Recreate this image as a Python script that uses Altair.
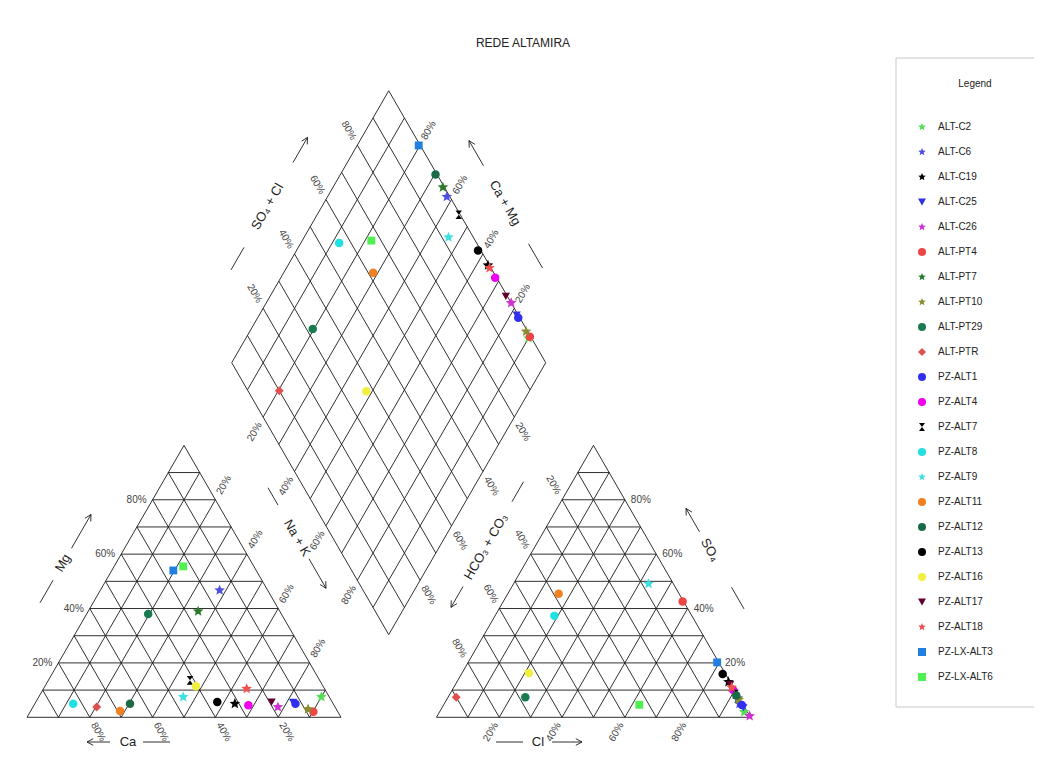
import math
import altair as alt
import pandas as pd

# ---------------- data (percent of meq) ----------------
series = ["ALT-C2", "ALT-C6", "ALT-C19", "ALT-C25", "ALT-C26", "ALT-PT4", "ALT-PT7",
          "ALT-PT10", "ALT-PT29", "ALT-PTR", "PZ-ALT1", "PZ-ALT4", "PZ-ALT7", "PZ-ALT8",
          "PZ-ALT9", "PZ-ALT11", "PZ-ALT12", "PZ-ALT13", "PZ-ALT16", "PZ-ALT17",
          "PZ-ALT18", "PZ-LX-ALT3", "PZ-LX-ALT6"]
markers = ["star", "star", "star", "triangle-down", "star", "circle", "star",
           "star", "circle", "diamond", "circle", "circle", "hourglass", "circle",
           "star", "circle", "circle", "circle", "circle", "triangle-down",
           "star", "square", "square"]
colors = ["#55dd55", "#5050e0", "#000000", "#3030e0", "#d030d0", "#ee4444", "#2a7a2a",
          "#8c8c30", "#1a7a50", "#e05050", "#3030ee", "#ee00ee", "#000000", "#20e0e0",
          "#40e0e0", "#f08020", "#1a6a48", "#000000", "#f0f040", "#600030",
          "#f05050", "#2080e0", "#50f050"]
mg_pct = [7.5, 46.7, 5.0, 5.5, 3.8, 2.0, 39.0, 3.0, 38.0, 3.8, 5.0, 4.4, 13.6, 5.0,
          7.5, 2.3, 5.0, 5.6, 11.4, 5.6, 10.5, 54.0, 55.5]
nak_pct = [90.0, 38.0, 63.7, 82.0, 78.0, 90.2, 35.0, 88.0, 19.6, 20.3, 83.0, 68.3, 45.1, 12.2,
           46.0, 28.5, 30.3, 57.8, 48.1, 75.1, 64.7, 19.6, 22.0]
so4_pct = [2.0, 5.0, 13.0, 3.5, 0.5, 42.6, 7.0, 6.5, 7.4, 7.4, 4.5, 10.0, 8.5, 37.3,
           49.1, 45.4, 8.0, 15.9, 16.3, 12.0, 11.0, 20.2, 4.6]
cl_pct = [97.0, 94.0, 86.5, 96.0, 99.5, 57.1, 92.5, 93.0, 24.6, 2.6, 95.0, 89.5, 91.0, 18.9,
          43.0, 16.2, 91.5, 83.2, 21.3, 87.5, 88.5, 79.3, 62.3]
tick_values = [20, 40, 60, 80]
title_text = "REDE ALTAMIRA"
legend_title = "Legend"

FONT = "Liberation Sans"

# ---------------- geometry ----------------
S3 = math.sqrt(3) / 2
GAP = 0.304
BX, BY = 1 + GAP / 2, GAP * S3
U = 314.0                 # pixels per unit side
OX, OY = 27.0, 717.3      # page position of the left triangle's Ca corner
W, H = 1026, 757
xdom = [(8 - OX) / U, (8 + W - OX) / U]
ydom = [(OY - (8 + H)) / U, (OY - 8) / U]


def cation_xy(mg, nak):
    return nak + mg / 2, mg * S3


def anion_xy(so4, cl):
    return 1 + GAP + cl + so4 / 2, so4 * S3


def diamond_xy(b, c):
    return BX + 0.5 * (b - c), BY + S3 * (b + c)


def page(px, py):
    return (px - OX) / U, (OY - py) / U


def shift(p, sx, sy):
    return p[0] + sx / U, p[1] - sy / U


# ---------------- line segments ----------------
segs = []


def add_seg(p, q):
    segs.append(dict(x=p[0], y=p[1], x2=q[0], y2=q[1]))


for i in range(10):
    f = i / 10
    add_seg(cation_xy(f, 0), cation_xy(f, 1 - f))
    add_seg(cation_xy(0, 1 - f), cation_xy(1 - f, 0))
    add_seg(cation_xy(0, f), cation_xy(1 - f, f))
    add_seg(anion_xy(f, 0), anion_xy(f, 1 - f))
    add_seg(anion_xy(0, f), anion_xy(1 - f, f))
    add_seg(anion_xy(0, 1 - f), anion_xy(1 - f, 0))
for i in range(11):
    f = i / 10
    add_seg(diamond_xy(0, f), diamond_xy(1, f))
    add_seg(diamond_xy(f, 0), diamond_xy(f, 1))

# ---------------- tick labels ----------------
ticks_c, ticks_l, ticks_r = [], [], []
D = 17
for v in tick_values:
    f = v / 100
    lab = f"{v}%"

    def rot(p, ux, uy, ang):
        q = shift(p, D * ux, D * uy)
        ticks_c.append(dict(x=q[0], y=q[1], t=lab, a=ang))

    q = shift(cation_xy(f, 0), -6, 0)
    ticks_r.append(dict(x=q[0], y=q[1], t=lab, a=0))
    rot(cation_xy(0, 1 - f), 0.5, S3, 60)
    rot(cation_xy(1 - f, f), 0.5, -S3, -60)
    rot(anion_xy(0, f), -0.5, S3, -60)
    q = shift(anion_xy(f, 1 - f), 6, 0)
    ticks_l.append(dict(x=q[0], y=q[1], t=lab, a=0))
    rot(anion_xy(1 - f, 0), -0.5, -S3, 60)
    rot(diamond_xy(f, 1), -0.5, -S3, 60)
    rot(diamond_xy(1, f), 0.5, -S3, -60)
    rot(diamond_xy(0, 1 - f), -0.5, S3, -60)
    rot(diamond_xy(1 - f, 0), 0.5, S3, 60)

# ---------------- axis titles with dash + arrow ----------------
axis_titles = [
    ("Mg", 63, 563, -60, (-46, -20), (17, 56)),
    ("Ca", 128, 742, 0, (15, 42), (-18, -41)),
    ("Na + K", 297, 538, 60, (-58, -38), (24, 58)),
    ("SO\u2084 + Cl", 267.5, 206.7, -60, (-73, -47), (51, 80)),
    ("Ca + Mg", 505, 203, 60, (47, 75), (-43, -72)),
    ("HCO\u2083 + CO\u2083", 486, 546.7, -60, (52, 75), (-46, -70)),
    ("SO\u2084", 710, 550, 60, (43, 68), (-21, -48)),
    ("Cl", 538, 742, 0, (-42, -15), (14, 44)),
]
titles = []
for txt, cx, cy, ang, dash, arr in axis_titles:
    ex, ey = math.cos(math.radians(ang)), math.sin(math.radians(ang))
    c = page(cx, cy)
    titles.append(dict(x=c[0], y=c[1], t=txt, a=ang))
    add_seg(shift(c, dash[0] * ex, dash[0] * ey), shift(c, dash[1] * ex, dash[1] * ey))
    add_seg(shift(c, arr[0] * ex, arr[0] * ey), shift(c, arr[1] * ex, arr[1] * ey))
    tip = shift(c, arr[1] * ex, arr[1] * ey)
    sgn = 1 if arr[1] > arr[0] else -1
    base_ang = math.atan2(sgn * ey, sgn * ex)
    for da in (math.radians(152), math.radians(-152)):
        hx, hy = math.cos(base_ang + da) * 7, math.sin(base_ang + da) * 7
        add_seg(tip, shift(tip, hx, hy))

tp = page(523, 43)
main_title = [dict(x=tp[0], y=tp[1], t=title_text, a=0)]
lt = page(975, 84)
legend_title_rows = [dict(x=lt[0], y=lt[1], t=legend_title, a=0)]
b0, b1 = page(896, 58), page(1062, 707)
legend_box = [dict(x=b0[0], y=b0[1], x2=b1[0], y2=b1[1])]

# ---------------- points ----------------
star = "M" + "L".join(
    f"{(1.0 if k % 2 == 0 else 0.45) * math.cos(math.radians(-90 + 36 * k)):.3f},"
    f"{(1.0 if k % 2 == 0 else 0.45) * math.sin(math.radians(-90 + 36 * k)):.3f}"
    for k in range(10)) + "Z"
hourglass = "M-0.75,-1L0.75,-1L0,0L0.75,1L-0.75,1L0,0Z"
shape_map = {"star": star, "hourglass": hourglass}
size_map = {"star": 125, "circle": 72, "square": 62, "diamond": 80,
            "triangle-down": 68, "hourglass": 75}
shape_range = [shape_map.get(m, m) for m in markers]

rows = []
for i, s in enumerate(series):
    mg, nak = mg_pct[i] / 100, nak_pct[i] / 100
    so4, cl = so4_pct[i] / 100, cl_pct[i] / 100
    pts = [cation_xy(mg, nak), anion_xy(so4, cl), diamond_xy(so4 + cl, 1 - nak)]
    for p in pts:
        rows.append(dict(x=p[0], y=p[1], series=s, sz=size_map[markers[i]]))
pts_df = pd.DataFrame(rows)

# ---------------- chart ----------------
xs = alt.Scale(domain=xdom, nice=False, zero=False)
ys = alt.Scale(domain=ydom, nice=False, zero=False)


def X(f="x"):
    return alt.X(f"{f}:Q", scale=xs, axis=None)


def Y(f="y"):
    return alt.Y(f"{f}:Q", scale=ys, axis=None)


box = alt.Chart(pd.DataFrame(legend_box)).mark_rect(
    fill="white", stroke="#c8c8c8", strokeWidth=1).encode(
    x=X(), y=Y(), x2="x2:Q", y2="y2:Q")

grid = alt.Chart(pd.DataFrame(segs)).mark_rule(color="#1a1a1a", strokeWidth=0.9).encode(
    x=X(), y=Y(), x2="x2:Q", y2="y2:Q")


def text_layer(data, align, size, color):
    return alt.Chart(pd.DataFrame(data)).mark_text(
        align=align, baseline="middle", font=FONT, fontSize=size, color=color
    ).encode(x=X(), y=Y(), text="t:N", angle=alt.Angle("a:Q", scale=None))


leg = alt.Legend(
    title=None, orient="none", legendX=909, legendY=114,
    labelFont=FONT, labelFontSize=10, labelColor="#222222", labelOffset=11,
    symbolSize=64, padding=0, rowPadding=15, clipHeight=10, symbolStrokeWidth=0)

points = alt.Chart(pts_df).mark_point(filled=True, opacity=1, strokeWidth=0).encode(
    x=X(), y=Y(),
    color=alt.Color("series:N", scale=alt.Scale(domain=series, range=colors), legend=leg),
    shape=alt.Shape("series:N", scale=alt.Scale(domain=series, range=shape_range), legend=leg),
    size=alt.Size("sz:Q", scale=None),
)

chart = alt.layer(
    box,
    grid,
    text_layer(ticks_c, "center", 10, "#444444"),
    text_layer(ticks_l, "left", 10, "#444444"),
    text_layer(ticks_r, "right", 10, "#444444"),
    text_layer(titles, "center", 13, "#222222"),
    text_layer(main_title, "center", 12, "#222222"),
    text_layer(legend_title_rows, "center", 10, "#222222"),
    points,
).properties(
    width=W, height=H, padding=0, autosize=alt.AutoSizeParams(type="none")
).configure_view(stroke=None)

chart.save("out.html", embed_options={"renderer": "svg", "actions": False})
